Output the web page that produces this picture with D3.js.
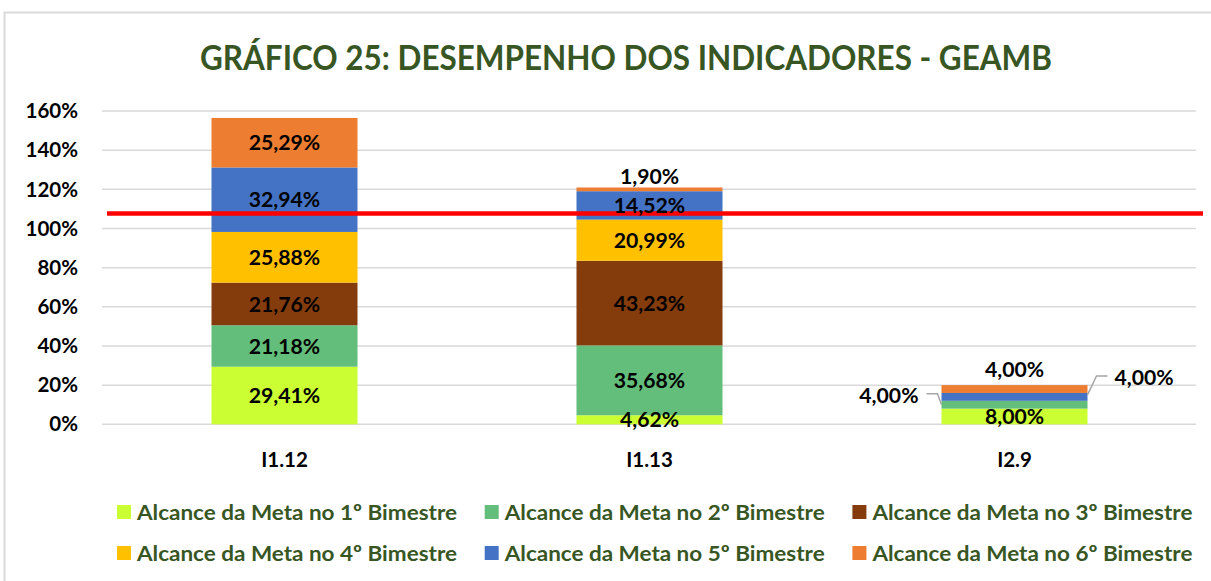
<!DOCTYPE html>
<html>
<head>
<meta charset="utf-8">
<script src="https://cdn.jsdelivr.net/npm/d3@7"></script>
<style>
  body { margin: 0; background: #fff; }
  svg { display: block; font-family: Lato, 'Open Sans', sans-serif; font-weight: bold; }
</style>
</head>
<body>
<svg id="chart" width="1211" height="581"></svg>
<script>
// data
const categories = ['I1.12', 'I1.13', 'I2.9']
const seriesNames = [
  'Alcance da Meta no 1º Bimestre',
  'Alcance da Meta no 2º Bimestre',
  'Alcance da Meta no 3º Bimestre',
  'Alcance da Meta no 4º Bimestre',
  'Alcance da Meta no 5º Bimestre',
  'Alcance da Meta no 6º Bimestre'
]
const bim1 = [29.41, 4.62, 8.00]
const bim2 = [21.18, 35.68, 4.00]
const bim3 = [21.76, 43.23, 0]
const bim4 = [25.88, 20.99, 0]
const bim5 = [32.94, 14.52, 4.00]
const bim6 = [25.29, 1.90, 4.00]
const yTicks = [0, 20, 40, 60, 80, 100, 120, 140, 160]
const metaLine = 107.7

const colors = ['#CCFF33', '#63BE7B', '#843C0C', '#FFC000', '#4472C4', '#ED7D31']
const TITLE = 'GRÁFICO 25: DESEMPENHO DOS INDICADORES - GEAMB'
const GREEN = '#375623'

// label placement for the thin segments (everything else sits in the middle)
const placement = {
  'I1.13|5': { at: 'top', dy: -11 },
  'I2.9|5': { at: 'top', dy: -16 },
  'I2.9|4': { at: 'right' },
  'I2.9|1': { at: 'left' }
}

const series = [bim1, bim2, bim3, bim4, bim5, bim6]
const table = categories.map((c, i) => {
  let row = { name: c }
  seriesNames.forEach((s, k) => row[s] = series[k][i])
  return row
})

const svg = d3.select('#chart')
const fmt = d3.formatLocale({ decimal: ',', thousands: '.', grouping: [3], currency: ['', ''] }).format(',.2f')

const x = d3.scaleBand().domain(categories).range([102, 1197]).paddingInner(0.6).paddingOuter(0.3)
const y = d3.scaleLinear().domain([0, 160]).range([424.3, 111])

// frame
svg.append('rect')
  .attr('x', 4.5).attr('y', 12.5).attr('width', 1230).attr('height', 600)
  .attr('fill', '#fff').attr('stroke', '#D9D9D9').attr('stroke-width', 2)

// title
svg.append('text')
  .attr('x', 626).attr('y', 70)
  .attr('text-anchor', 'middle')
  .attr('fill', GREEN)
  .attr('font-size', 35)
  .attr('textLength', 852).attr('lengthAdjust', 'spacingAndGlyphs')
  .text(TITLE)

// grid + y labels
const grid = svg.append('g')
grid.selectAll('line').data(yTicks).join('line')
  .attr('x1', 102).attr('x2', 1196)
  .attr('y1', d => y(d)).attr('y2', d => y(d))
  .attr('stroke', '#D9D9D9').attr('stroke-width', 1.5)
grid.selectAll('text').data(yTicks).join('text')
  .attr('x', 78).attr('y', d => y(d)).attr('dy', '0.35em')
  .attr('text-anchor', 'end').attr('font-size', 20.5).attr('fill', '#000')
  .text(d => d + '%')

// stacked bars
const stack = d3.stack().keys(seriesNames)
const stacked = stack(table)

svg.append('g').selectAll('g').data(stacked).join('g')
  .attr('fill', (d, k) => colors[k])
  .selectAll('rect').data(d => d).join('rect')
  .attr('x', d => x(d.data.name))
  .attr('width', x.bandwidth())
  .attr('y', d => y(d[1]))
  .attr('height', d => y(d[0]) - y(d[1]))

// x labels
svg.append('g').selectAll('text').data(categories).join('text')
  .attr('x', d => x(d) + x.bandwidth() / 2).attr('y', 460).attr('dy', '0.35em')
  .attr('text-anchor', 'middle').attr('font-size', 20.5).attr('fill', '#000')
  .text(d => d)

// meta line
svg.append('line')
  .attr('x1', 107).attr('x2', 1203)
  .attr('y1', y(metaLine)).attr('y2', y(metaLine))
  .attr('stroke', '#FF0000').attr('stroke-width', 4.5)

// data labels
const labels = svg.append('g').attr('font-size', 21.2).attr('fill', '#000')
stacked.forEach((s, k) => {
  s.forEach(d => {
    let v = d[1] - d[0]
    if (!v) return
    let key = d.data.name + '|' + k
    let p = placement[key]
    let cx = x(d.data.name) + x.bandwidth() / 2
    let cy = (y(d[0]) + y(d[1])) / 2
    let text = fmt(v) + '%'
    if (!p) {
      labels.append('text').attr('x', cx).attr('y', cy).attr('dy', '0.36em')
        .attr('text-anchor', 'middle').text(text)
    } else if (p.at === 'top') {
      labels.append('text').attr('x', cx).attr('y', y(d[1]) + p.dy).attr('dy', '0.36em')
        .attr('text-anchor', 'middle').text(text)
    } else if (p.at === 'left') {
      let ex = x(d.data.name)
      labels.append('path')
        .attr('d', `M${ex - 15},${cy - 11}H${ex - 4}L${ex},${cy}`)
        .attr('fill', 'none').attr('stroke', '#A6A6A6').attr('stroke-width', 1.5)
      labels.append('text').attr('x', ex - 23).attr('y', cy - 9.5).attr('dy', '0.36em')
        .attr('text-anchor', 'end').text(text)
    } else if (p.at === 'right') {
      let ex = x(d.data.name) + x.bandwidth()
      labels.append('path')
        .attr('d', `M${ex + 20},${cy - 21}H${ex + 9}L${ex},${cy - 2}`)
        .attr('fill', 'none').attr('stroke', '#A6A6A6').attr('stroke-width', 1.5)
      labels.append('text').attr('x', ex + 27).attr('y', cy - 20).attr('dy', '0.36em')
        .attr('text-anchor', 'start').text(text)
    }
  })
})

// legend, 3 columns x 2 rows
const legend = svg.append('g').selectAll('g').data(seriesNames).join('g')
  .attr('transform', (d, i) => `translate(${117 + (i % 3) * 367.7},${512 + Math.floor(i / 3) * 41})`)
legend.append('rect')
  .attr('x', 0).attr('y', -7).attr('width', 14).attr('height', 14)
  .attr('fill', (d, i) => colors[i])
legend.append('text')
  .attr('x', 20).attr('dy', '0.36em')
  .attr('font-size', 21.5).attr('fill', GREEN)
  .attr('textLength', 320).attr('lengthAdjust', 'spacingAndGlyphs')
  .text(d => d)
</script>
</body>
</html>
